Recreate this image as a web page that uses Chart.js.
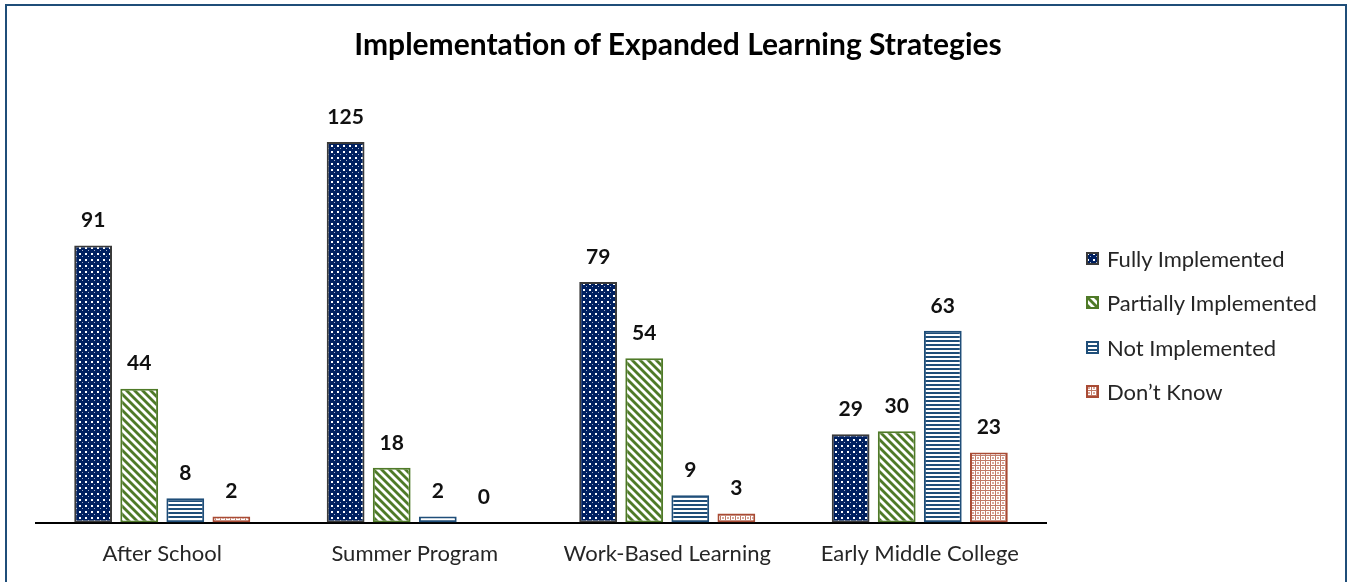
<!DOCTYPE html>
<html>
<head>
<meta charset="utf-8">
<script src="https://cdn.jsdelivr.net/npm/chart.js@4/dist/chart.umd.min.js"></script>
<style>
  body { margin: 0; background: #fff; }
  #wrap { position: relative; width: 1350px; height: 582px; overflow: hidden; font-family: Lato, sans-serif; }
  #wrap > canvas { position: absolute; left: 0; top: 0; }
  #title { position: absolute; left: 0; top: 26px; width: 1356px; text-align: center; font-size: 30px; line-height: 34px; font-weight: bold; color: #000; white-space: nowrap; }
  #frame { position: absolute; left: 5px; top: 4px; width: 1342px; height: 640px; box-sizing: border-box; border: 2px solid #1f4e79; pointer-events: none; }
  #legend { position: absolute; left: 1086px; top: 0; }
  .item { position: absolute; left: 0; display: flex; align-items: center; white-space: nowrap; height: 26px; }
  .item canvas { display: block; margin-right: 8px; }
  .item span { font-size: 22px; color: #262626; }
</style>
</head>
<body>
<div id="wrap">
  <canvas id="chart" width="1350" height="585"></canvas>
  <div id="title">Implementation of Expanded Learning Strategies</div>
  <div id="legend"></div>
  <div id="frame"></div>
</div>
<script>
const categories = ['After School', 'Summer Program', 'Work-Based Learning', 'Early Middle College'];
const seriesNames = ['Fully Implemented', 'Partially Implemented', 'Not Implemented', 'Don\u2019t Know'];
const fullyImplemented = [91, 125, 79, 29];
const partiallyImplemented = [44, 18, 54, 30];
const notImplemented = [8, 2, 9, 63];
const dontKnow = [2, 0, 3, 23];

// small tiles for the Excel-style pattern fills
function tile(size, draw) {
  const c = document.createElement('canvas');
  c.width = size; c.height = size;
  draw(c.getContext('2d'));
  return c;
}

const dotsTile = tile(6, (g) => {
  g.fillStyle = '#002060'; g.fillRect(0, 0, 6, 6);
  g.fillStyle = '#ffffff';
  g.fillRect(1, 1, 2, 2);
  g.fillStyle = '#aab4cc';
  g.fillRect(4, 4, 1, 1);
});

const diagTile = tile(8, (g) => {
  g.fillStyle = '#ffffff'; g.fillRect(0, 0, 8, 8);
  g.strokeStyle = '#4f7a28'; g.lineWidth = 2.8;
  for (const k of [-8, 0, 8]) {
    g.beginPath(); g.moveTo(-1, k - 1); g.lineTo(9, k + 9); g.stroke();
  }
});

const hlineTile = tile(4, (g) => {
  g.fillStyle = '#ffffff'; g.fillRect(0, 0, 4, 4);
  g.fillStyle = '#1f4e79'; g.fillRect(0, 0, 4, 2);
});

// light lattice: white with thin red grid
const trellisTile = tile(5, (g) => {
  g.fillStyle = '#ffffff'; g.fillRect(0, 0, 5, 5);
  g.fillStyle = '#c07a68';
  g.fillRect(0, 0, 5, 1);
  g.fillRect(0, 0, 1, 5);
  g.fillStyle = '#d9a89b';
  g.fillRect(2, 2, 2, 2);
});

const tiles = [dotsTile, diagTile, hlineTile, trellisTile];
const canvas = document.getElementById('chart');
const ctx = canvas.getContext('2d');
const fills = tiles.map((t) => ctx.createPattern(t, 'repeat'));
const borders = ['#3a3a3a', '#4f7a28', '#1f4e79', '#a94b34'];
const values = [fullyImplemented, partiallyImplemented, notImplemented, dontKnow];

const valueLabels = {
  id: 'valueLabels',
  afterDatasetsDraw(chart) {
    const c = chart.ctx;
    c.save();
    c.font = 'bold 21px Lato';
    c.fillStyle = '#111';
    c.textAlign = 'center';
    c.textBaseline = 'middle';
    chart.data.datasets.forEach((ds, i) => {
      chart.getDatasetMeta(i).data.forEach((bar, j) => {
        c.fillText(String(ds.data[j]), bar.x, bar.y - 25);
      });
    });
    c.restore();
  },
};

new Chart(canvas, {
  type: 'bar',
  data: {
    labels: categories,
    datasets: seriesNames.map((name, i) => ({
      label: name,
      data: values[i],
      backgroundColor: fills[i],
      borderColor: borders[i],
      borderWidth: 2,
      borderSkipped: false,
      categoryPercentage: 0.73,
      barPercentage: 0.82,
    })),
  },
  options: {
    responsive: false,
    animation: false,
    layout: { padding: { left: 36, right: 304, bottom: 0, top: 66 } },
    plugins: {
      legend: { display: false },
      tooltip: { enabled: false },
    },
    scales: {
      x: {
        grid: { display: false, drawTicks: false },
        border: { display: true, color: '#000', width: 2 },
        ticks: { color: '#262626', padding: 18, font: { family: 'Lato', size: 22 } },
      },
      y: {
        display: false,
        min: 0,
        max: 150,
      },
    },
  },
  plugins: [valueLabels],
});

// legend drawn as html next to the canvas
const legend = document.getElementById('legend');
const centers = [258, 302, 347, 391];
seriesNames.forEach((name, i) => {
  const item = document.createElement('div');
  item.className = 'item';
  item.style.top = (centers[i] - 13) + 'px';
  const sw = document.createElement('canvas');
  sw.width = 13; sw.height = 13;
  const g = sw.getContext('2d');
  g.fillStyle = g.createPattern(tiles[i], 'repeat');
  g.fillRect(0, 0, 13, 13);
  g.strokeStyle = borders[i]; g.lineWidth = 2;
  g.strokeRect(1, 1, 11, 11);
  const label = document.createElement('span');
  label.textContent = name;
  item.appendChild(sw);
  item.appendChild(label);
  legend.appendChild(item);
});
</script>
</body>
</html>
